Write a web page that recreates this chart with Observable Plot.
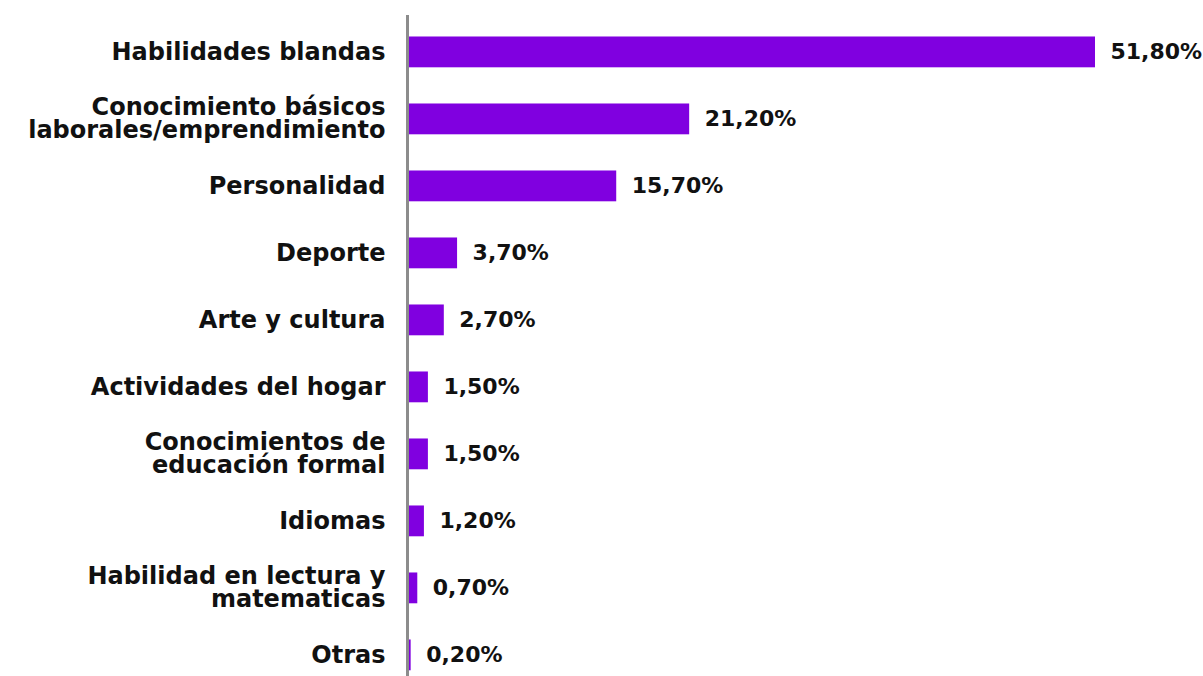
<!DOCTYPE html>
<html>
<head>
<meta charset="utf-8">
<script src="https://cdn.jsdelivr.net/npm/d3@7"></script>
<script src="https://cdn.jsdelivr.net/npm/@observablehq/plot@0.6"></script>
<style>
  html, body { margin: 0; padding: 0; background: #fff; }
  #chart svg { display: block; }
</style>
</head>
<body>
<div id="chart"></div>
<script>
const categories = [
  "Habilidades blandas",
  "Conocimiento básicos\nlaborales/emprendimiento",
  "Personalidad",
  "Deporte",
  "Arte y cultura",
  "Actividades del hogar",
  "Conocimientos de\neducación formal",
  "Idiomas",
  "Habilidad en lectura y\nmatematicas",
  "Otras"
];
const values = [51.8, 21.2, 15.7, 3.7, 2.7, 1.5, 1.5, 1.2, 0.7, 0.2];
const valueLabels = ["51,80%", "21,20%", "15,70%", "3,70%", "2,70%", "1,50%", "1,50%", "1,20%", "0,70%", "0,20%"];

const data = categories.map((c, i) => ({cat: c, value: values[i], label: valueLabels[i]}));

const font = "'DejaVu Sans', 'Open Sans', sans-serif";

const chart = Plot.plot({
  width: 1203,
  height: 676,
  marginLeft: 408,
  marginRight: 0,
  marginTop: 15,
  marginBottom: 0,
  style: {fontFamily: font, background: "#fff"},
  x: {domain: [0, 51.8], range: [408, 1095], axis: null},
  y: {domain: categories, paddingInner: 0.54, paddingOuter: 0.203, align: 0.79, round: false, label: null},
  marks: [
    Plot.barX(data, {y: "cat", x: "value", fill: "#8000E0"}),
    Plot.text(data, {y: "cat", x: "value", text: "label", textAnchor: "start", dx: 15, fontSize: 22, fontWeight: 700, fill: "#111"}),
    Plot.axisY({tickSize: 0, tickPadding: 23, fontSize: 24, fontWeight: 700, lineHeight: 0.95, fill: "#111", label: null}),
    Plot.ruleX([0], {stroke: "#8c8c8c", strokeWidth: 3, dx: -1})
  ]
});
document.getElementById("chart").appendChild(chart);
</script>
</body>
</html>
